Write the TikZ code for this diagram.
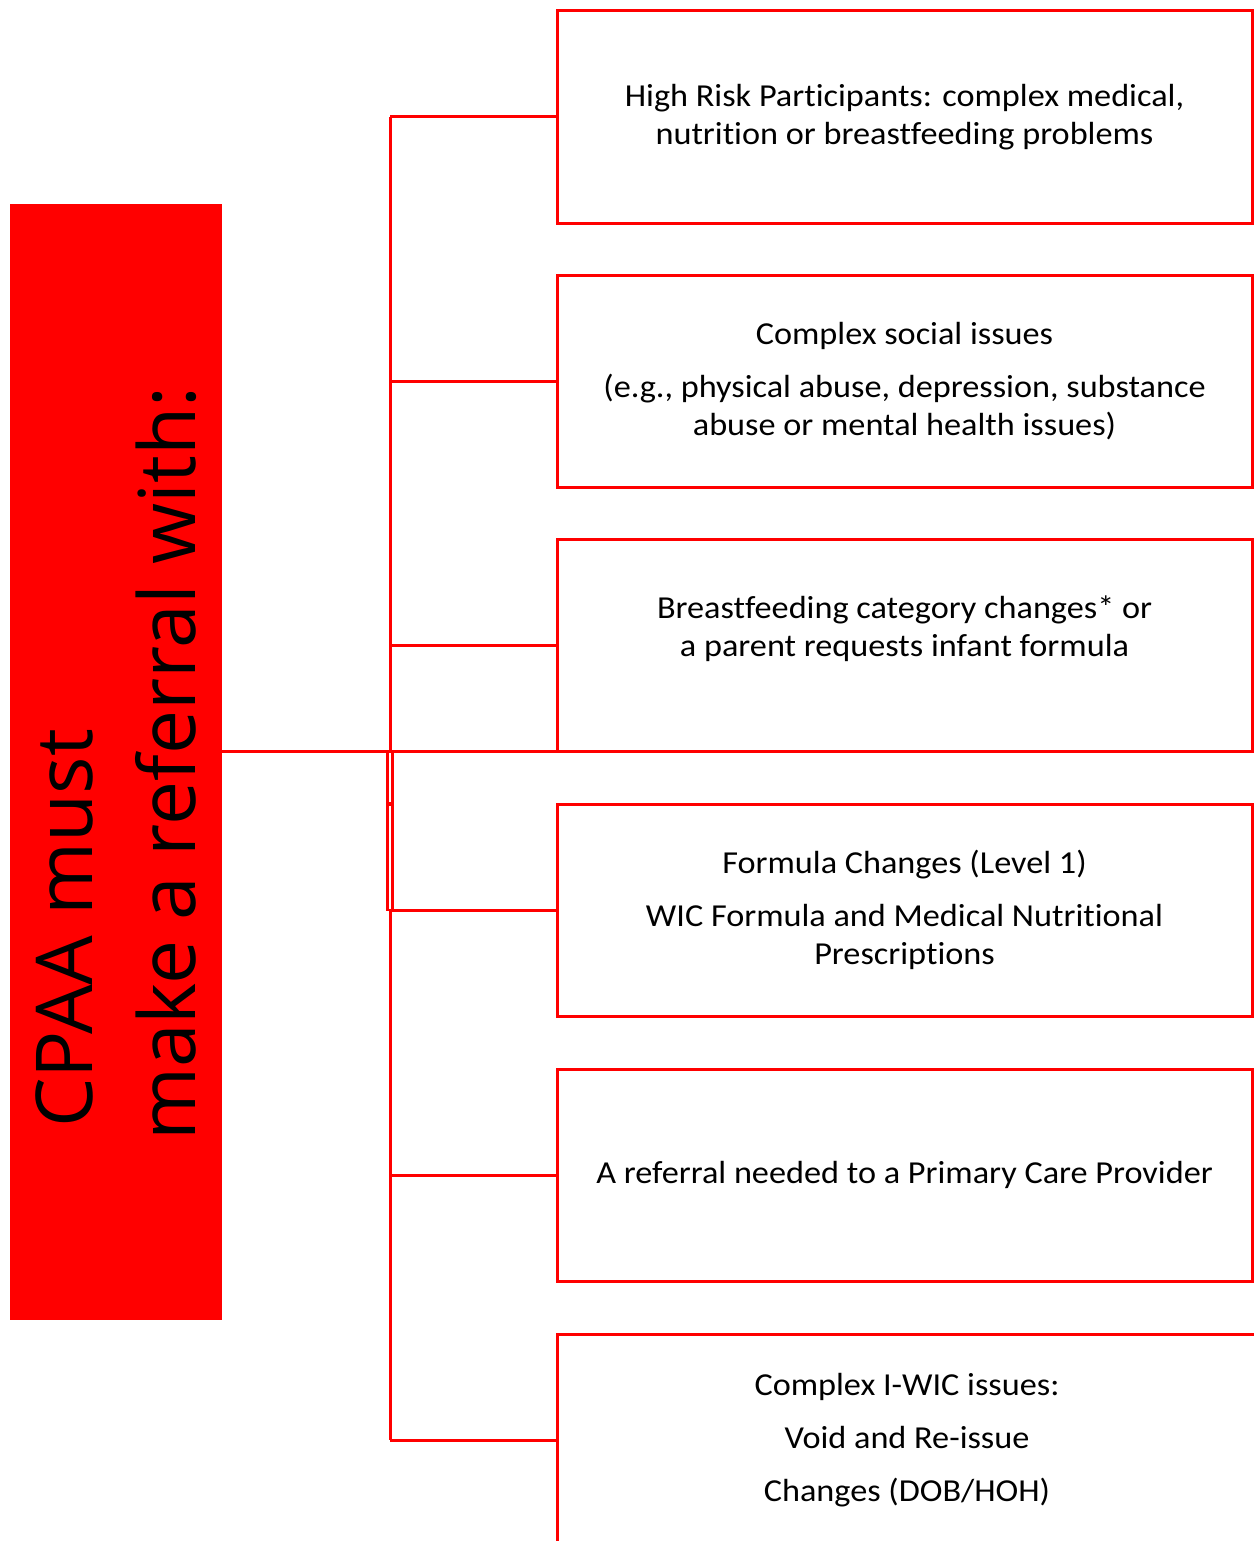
\documentclass[tikz,border=0pt]{standalone}
\usepackage{fontspec}
\setmainfont{Carlito}[Ligatures=NoCommon, FakeStretch=1.07]
\newfontfamily\bigfont{Open Sans}
\definecolor{pured}{RGB}{255,0,0}
\begin{document}
\begin{tikzpicture}[x=1pt,y=-1pt,
  box/.style={draw=pured, line width=3pt, minimum width=695pt, minimum height=212pt,
    inner sep=0pt, outer sep=0pt, anchor=north west, font=\fontsize{32}{38}\selectfont, align=center},
  conn/.style={draw=pured, line width=3pt},
  seam/.style={draw=pured, line width=2.6pt, fill=white}]
\useasboundingbox (0,0) rectangle (1253,1541);

% left red block
\node[fill=pured, minimum width=212pt, minimum height=1116pt, inner sep=0pt, outer sep=0pt, anchor=north west]
  (cpaa) at (10,204) {};
\node[rotate=90, anchor=south west, align=left, inner sep=0pt,
  font=\bigfont\fontsize{78.5}{103}\selectfont]
  (cpaatext) at (197,1141) {\hspace*{13pt}CPAA must\\make a referral with:};

% boxes
\node[box] (b1) at (557,11) {High Risk Participants: complex medical,\\nutrition or breastfeeding problems};
\node[box] (b2) at (557,275) {Complex social issues\\[15pt](e.g., physical abuse, depression, substance\\abuse or mental health issues)};
\node[box] (b3) at (557,539) {Breastfeeding category changes* or\\a parent requests infant formula\\~};
\node[box] (b4) at (557,804) {Formula Changes (Level 1)\\[15pt]WIC Formula and Medical Nutritional\\Prescriptions};
\node[box] (b5) at (557,1069) {A referral needed to a Primary Care Provider};
\node[box, minimum width=700pt] (b6) at (557,1334) {Complex I-WIC issues:\\[15pt]Void and Re-issue\\[15pt]Changes (DOB/HOH)};

% connectors
\coordinate (trunk) at (390,0);
\coordinate (hub) at (390,751);
\draw[conn] (b1.west -| trunk) -- (b6.west -| trunk);
\foreach \b in {b1,b2,b3,b4,b5,b6}
  \draw[conn] (\b.west -| trunk) -- (\b.west);
\draw[seam] (387.7,752) rectangle (392.3,803);
\draw[seam] (387.7,805) rectangle (392.3,910);
\draw[conn] (cpaa.east |- hub) -- (hub) -- (hub -| b3.west);
\end{tikzpicture}
\end{document}
